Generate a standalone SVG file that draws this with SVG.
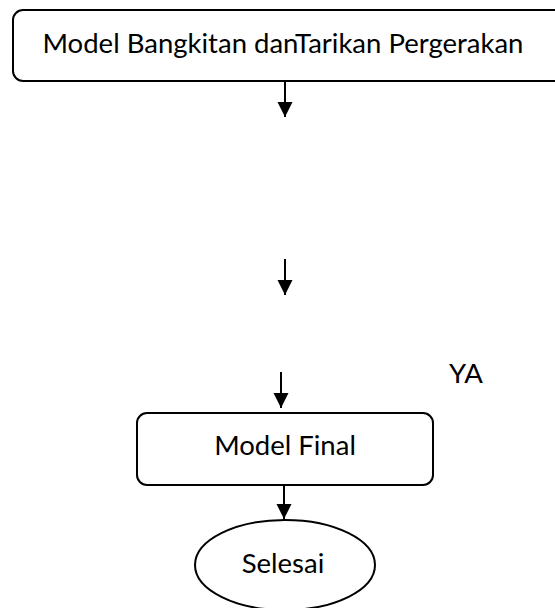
<svg xmlns="http://www.w3.org/2000/svg" width="555" height="608" viewBox="0 0 555 608">
<style>
.box{fill:#fff;stroke:#000;stroke-width:2}
.t{font-family:Lato,"Open Sans",sans-serif;font-size:27.5px;fill:#000;text-anchor:middle}
.c{stroke:#000;stroke-width:2;fill:none}
</style>
<defs>
<marker id="ah" markerWidth="16" markerHeight="16" refX="15" refY="8" orient="auto" markerUnits="userSpaceOnUse" viewBox="0 0 16 16">
<path d="M0,0.5 L15,8 L0,15.5 Z" fill="#000"/>
</marker>
</defs>
<rect width="555" height="608" fill="#fff"/>
<g id="n1"><rect class="box" x="13" y="10" width="560" height="71" rx="10"/><text class="t" x="283" y="53">Model Bangkitan danTarikan Pergerakan</text></g>
<g id="n2"><rect class="box" x="137" y="413" width="296" height="72" rx="10"/><text class="t" x="285" y="455">Model Final</text></g>
<g id="n3"><ellipse class="box" cx="285" cy="565" rx="90" ry="45"/><text class="t" x="283" y="573">Selesai</text></g>
<g id="labels"><text class="t" x="466" y="383">YA</text></g>
<g id="connectors">
<path class="c" d="M285,82 V117" marker-end="url(#ah)"/>
<path class="c" d="M285,259 V295" marker-end="url(#ah)"/>
<path class="c" d="M281,372 V408" marker-end="url(#ah)"/>
<path class="c" d="M284,486 V519" marker-end="url(#ah)"/>
</g>
</svg>
